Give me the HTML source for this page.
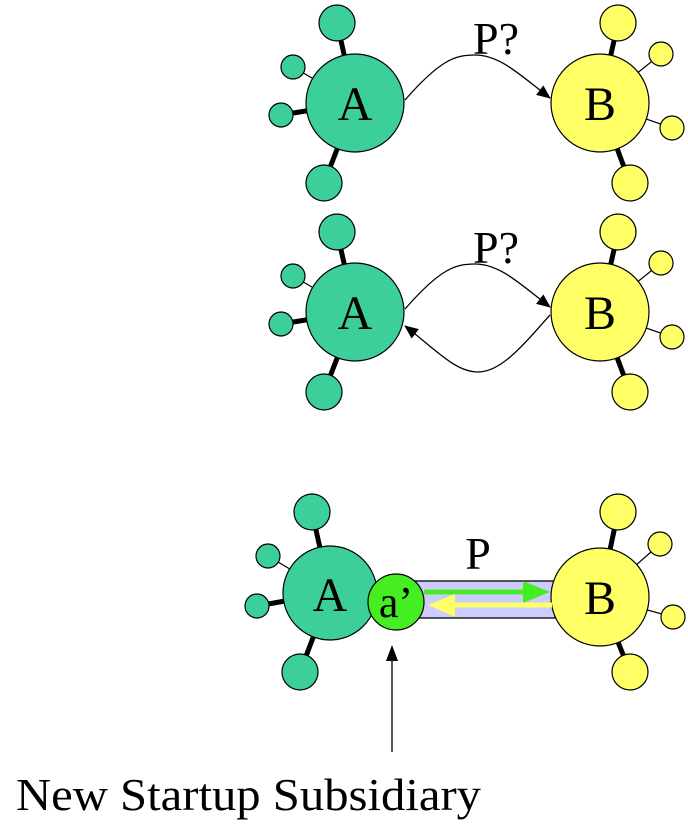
<!DOCTYPE html>
<html><head><meta charset="utf-8"><style>html,body{margin:0;padding:0;background:#fff}svg{display:block}text{font-family:"Liberation Serif",serif}</style></head><body>
<svg width="688" height="828" viewBox="0 0 688 828" xmlns="http://www.w3.org/2000/svg">
<defs>
<marker id="ah" markerWidth="14" markerHeight="14" refX="13" refY="7" orient="auto" markerUnits="userSpaceOnUse"><path d="M0,1 L14,7 L0,13 z" fill="#000"/></marker>
</defs>

<g id="g1">
<g stroke="#000">
<line x1="337" y1="23" x2="355" y2="103" stroke-width="5"/>
<line x1="293" y1="67" x2="355" y2="103" stroke-width="1.2"/>
<line x1="281" y1="115" x2="355" y2="103" stroke-width="5"/>
<line x1="324" y1="183" x2="355" y2="103" stroke-width="5"/>
<line x1="618" y1="23" x2="600" y2="103" stroke-width="5"/>
<line x1="661" y1="54" x2="600" y2="103" stroke-width="1.2"/>
<line x1="672" y1="128" x2="600" y2="103" stroke-width="1.2"/>
<line x1="630" y1="183" x2="600" y2="103" stroke-width="5"/>
</g>
<g fill="#3ccf9a" stroke="#000" stroke-width="1.2">
<circle cx="337" cy="23" r="18"/><circle cx="293" cy="67" r="12"/><circle cx="281" cy="115" r="12"/><circle cx="324" cy="183" r="18"/>
<circle cx="355" cy="103" r="49"/>
</g>
<g fill="#ffff66" stroke="#000" stroke-width="1.2">
<circle cx="618" cy="23" r="18"/><circle cx="661" cy="54" r="12"/><circle cx="672" cy="128" r="12"/><circle cx="630" cy="183" r="18"/>
<circle cx="600" cy="103" r="49"/>
</g>
<text x="355" y="120" font-size="48" text-anchor="middle">A</text>
<text x="600" y="120" font-size="48" text-anchor="middle">B</text>
<path d="M405,100 C440,60 455,55 475,55 C500,55 520,75 550,98" fill="none" stroke="#000" stroke-width="1.3" marker-end="url(#ah)"/>
<text x="496" y="54" font-size="46" text-anchor="middle">P?</text>
</g>

<g transform="translate(0,209)">
<g stroke="#000">
<line x1="337" y1="23" x2="355" y2="103" stroke-width="5"/>
<line x1="293" y1="67" x2="355" y2="103" stroke-width="1.2"/>
<line x1="281" y1="115" x2="355" y2="103" stroke-width="5"/>
<line x1="324" y1="183" x2="355" y2="103" stroke-width="5"/>
<line x1="618" y1="23" x2="600" y2="103" stroke-width="5"/>
<line x1="661" y1="54" x2="600" y2="103" stroke-width="1.2"/>
<line x1="672" y1="128" x2="600" y2="103" stroke-width="1.2"/>
<line x1="630" y1="183" x2="600" y2="103" stroke-width="5"/>
</g>
<g fill="#3ccf9a" stroke="#000" stroke-width="1.2">
<circle cx="337" cy="23" r="18"/><circle cx="293" cy="67" r="12"/><circle cx="281" cy="115" r="12"/><circle cx="324" cy="183" r="18"/>
<circle cx="355" cy="103" r="49"/>
</g>
<g fill="#ffff66" stroke="#000" stroke-width="1.2">
<circle cx="618" cy="23" r="18"/><circle cx="661" cy="54" r="12"/><circle cx="672" cy="128" r="12"/><circle cx="630" cy="183" r="18"/>
<circle cx="600" cy="103" r="49"/>
</g>
<text x="355" y="120" font-size="48" text-anchor="middle">A</text>
<text x="600" y="120" font-size="48" text-anchor="middle">B</text>
<path d="M405,100 C440,60 455,55 475,55 C500,55 520,75 550,98" fill="none" stroke="#000" stroke-width="1.3" marker-end="url(#ah)"/>
<path d="M550,106 C520,140 500,163 478,163 C455,163 435,140 405,117" fill="none" stroke="#000" stroke-width="1.3" marker-end="url(#ah)"/>
<text x="496" y="54" font-size="46" text-anchor="middle">P?</text>
</g>

<g stroke="#000">
<line x1="312" y1="512" x2="330" y2="593" stroke-width="5"/>
<line x1="268" y1="556" x2="330" y2="593" stroke-width="1.2"/>
<line x1="257" y1="606" x2="330" y2="593" stroke-width="5"/>
<line x1="300" y1="672" x2="330" y2="593" stroke-width="5"/>
<line x1="618" y1="512" x2="600" y2="597" stroke-width="5"/>
<line x1="660" y1="544" x2="600" y2="597" stroke-width="1.2"/>
<line x1="673" y1="617" x2="600" y2="597" stroke-width="1.2"/>
<line x1="630" y1="672" x2="600" y2="597" stroke-width="5"/>
</g>
<rect x="410" y="581" width="145" height="37" fill="#ccccff" stroke="#000" stroke-width="1.3"/>
<g fill="#3ccf9a" stroke="#000" stroke-width="1.2">
<circle cx="312" cy="512" r="18"/><circle cx="268" cy="556" r="12"/><circle cx="257" cy="606" r="12"/><circle cx="300" cy="672" r="18"/>
<circle cx="330" cy="593" r="47"/>
</g>
<g fill="#ffff66" stroke="#000" stroke-width="1.2">
<circle cx="618" cy="512" r="18"/><circle cx="660" cy="544" r="12"/><circle cx="673" cy="617" r="12"/><circle cx="630" cy="672" r="18"/>
<circle cx="600" cy="597" r="49"/>
</g>
<circle cx="396" cy="602" r="28" fill="#44ee22" stroke="#000" stroke-width="1.2"/>
<line x1="424" y1="592" x2="525" y2="592" stroke="#44ee22" stroke-width="5"/>
<path d="M523,581 L550,592 L523,603 z" fill="#44ee22"/>
<line x1="453" y1="605" x2="552" y2="605" stroke="#ffff66" stroke-width="5"/>
<path d="M455,594 L428,605 L455,617 z" fill="#ffff66"/>
<text x="330" y="611" font-size="48" text-anchor="middle">A</text>
<text x="600" y="614" font-size="48" text-anchor="middle">B</text>
<text x="396" y="617" font-size="44" text-anchor="middle">a’</text>
<text x="478" y="569" font-size="46" text-anchor="middle">P</text>

<line x1="392" y1="752" x2="392" y2="647" stroke="#000" stroke-width="1.3"/>
<path d="M386,661 L392,645 L398,661 z" fill="#000"/>
<text x="16" y="810" font-size="46" textLength="465" lengthAdjust="spacingAndGlyphs">New Startup Subsidiary</text>
</svg>
</body></html>
